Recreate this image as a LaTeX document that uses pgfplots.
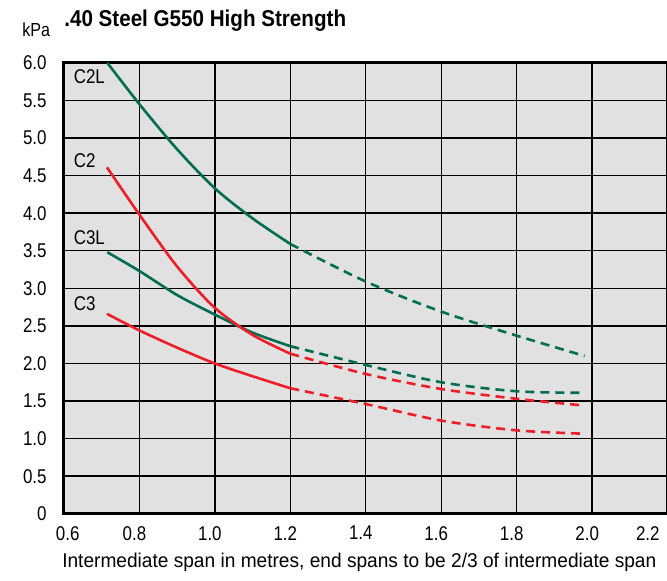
\documentclass[border=0pt]{standalone}
\usepackage{fontspec}
\setmainfont{Liberation Sans}[FakeStretch=0.85]
\newfontfamily\titlefont{Liberation Sans}[FakeStretch=0.9]
\newfontfamily\labfont{Liberation Sans}[FakeStretch=0.96]
\usepackage{pgfplots}
\pgfplotsset{compat=1.18}
\definecolor{cgreen}{RGB}{0,108,82}
\definecolor{cred}{RGB}{237,30,40}
\definecolor{cbg}{RGB}{225,225,225}
\begin{document}
\begin{tikzpicture}
\begin{axis}[
  name=ax,
  scale only axis,
  width=302bp, height=225.6bp,
  xmin=0.6, xmax=2.2, ymin=0, ymax=6,
  xtick={0.6,0.8,1.0,1.2,1.4,1.6,1.8,2.0,2.2},
  xticklabels={\makebox[0pt][l]{\hspace{-1.5bp}0.6},0.8,1.0,1.2,1.4,1.6,1.8,2.0,\makebox[0pt][r]{2.2\hspace{1.5bp}}},
  ytick={0,0.5,1,1.5,2,2.5,3,3.5,4,4.5,5,5.5,6},
  yticklabels={0,0.5,1.0,1.5,2.0,2.5,3.0,3.5,4.0,4.5,5.0,5.5,6.0},
  major tick length=0pt,
  grid=major,
  major grid style={black, line width=0.7bp},
  axis line style={black, line width=1.5bp},
  axis background/.style={fill=cbg},
  tick label style={font=\fontsize{10}{12}\selectfont, inner sep=0pt},
  yticklabel style={anchor=east, xshift=-8.5bp},
  xticklabel style={anchor=north, yshift=-6bp, xshift=-2.5bp},
  /pgf/number format/assume math mode=true,
  title={.40 Steel G550 High Strength},
  title style={at={(axis description cs:0,1)}, anchor=base west, yshift=12bp, xshift=0bp, inner sep=0pt, font=\titlefont\bfseries\fontsize{11.5}{13}\selectfont},
  xlabel={Intermediate span in metres, end spans to be 2/3 of intermediate span},
  xlabel style={at={(axis description cs:0.5,0)}, anchor=base, yshift=-27bp, xshift=-3.25bp, inner sep=0pt, font=\labfont\fontsize{10}{12}\selectfont},
  every axis y label/.style={at={(axis description cs:0,1)}, anchor=base west, xshift=-21bp, yshift=13bp, inner sep=0pt, font=\fontsize{9.5}{12}\selectfont},
  ylabel={kPa},
  clip=false,
]
% C2L
\addplot[cgreen, line width=1.3bp, smooth] coordinates {(0.715,6.0) (0.8,5.45) (0.9,4.85) (1.0,4.33) (1.1,3.93) (1.2,3.59)};
\addplot[cgreen, line width=1.3bp, smooth, dash pattern=on 4.5bp off 3bp] coordinates {(1.2,3.59) (1.4,3.09) (1.6,2.69) (1.8,2.37) (1.98,2.10)};
% C3L
\addplot[cgreen, line width=1.3bp, smooth] coordinates {(0.715,3.48) (0.8,3.23) (0.9,2.91) (1.0,2.65) (1.1,2.41) (1.2,2.23)};
\addplot[cgreen, line width=1.3bp, smooth, dash pattern=on 4.5bp off 3bp] coordinates {(1.2,2.23) (1.4,1.98) (1.6,1.75) (1.8,1.63) (1.98,1.61)};
% C2
\addplot[cred, line width=1.3bp, smooth] coordinates {(0.714,4.61) (0.8,3.98) (0.9,3.29) (1.0,2.74) (1.1,2.38) (1.2,2.13)};
\addplot[cred, line width=1.3bp, smooth, dash pattern=on 4.5bp off 3bp] coordinates {(1.2,2.13) (1.4,1.86) (1.6,1.66) (1.8,1.53) (1.98,1.44)};
% C3
\addplot[cred, line width=1.3bp, smooth] coordinates {(0.714,2.66) (0.8,2.44) (0.9,2.21) (1.0,2.0) (1.1,1.83) (1.2,1.67)};
\addplot[cred, line width=1.3bp, smooth, dash pattern=on 4.5bp off 3bp] coordinates {(1.2,1.67) (1.4,1.46) (1.6,1.24) (1.8,1.11) (1.98,1.065)};
\node[anchor=west, inner sep=0pt, font=\fontsize{10}{12}\selectfont] at (axis cs:0.625,5.82) {C2L};
\node[anchor=west, inner sep=0pt, font=\fontsize{10}{12}\selectfont] at (axis cs:0.625,4.70) {C2};
\node[anchor=west, inner sep=0pt, font=\fontsize{10}{12}\selectfont] at (axis cs:0.625,3.67) {C3L};
\node[anchor=west, inner sep=0pt, font=\fontsize{10}{12}\selectfont] at (axis cs:0.625,2.79) {C3};
\end{axis}
\pgfresetboundingbox
\useasboundingbox ([xshift=-32bp,yshift=-33.45bp]ax.south west) rectangle ([xshift=-0.3bp,yshift=31.45bp]ax.north east);
\end{tikzpicture}
\end{document}
